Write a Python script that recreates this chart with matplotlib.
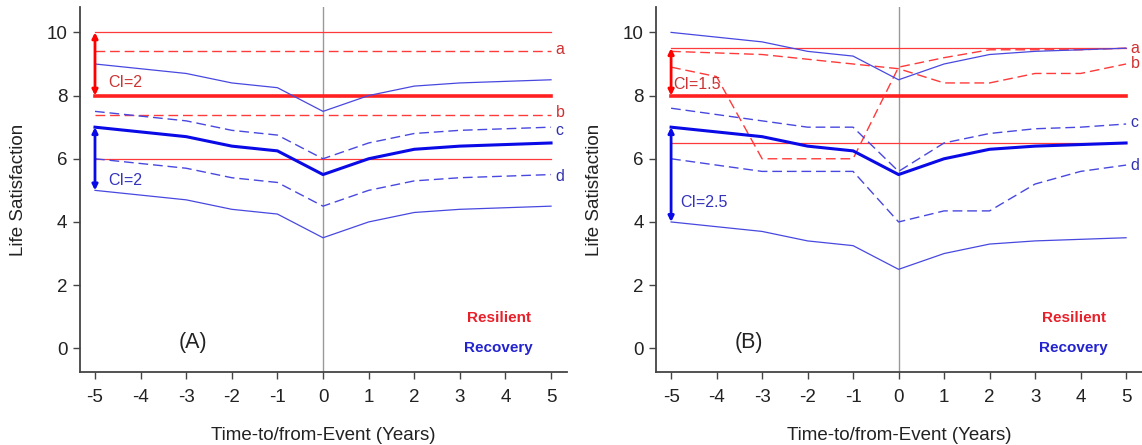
import numpy as np
import matplotlib
matplotlib.use('Agg')
import matplotlib.pyplot as plt

matplotlib.rcParams.update({'font.family': ['Liberation Sans', 'DejaVu Sans'], 'font.size': 12,
                            'axes.unicode_minus': False})

years = [-5, -4, -3, -2, -1, 0, 1, 2, 3, 4, 5]

# panel A
a_res_mean = 8.0
a_res_band = [6.0, 10.0]
a_res_dash = {'a': 9.4, 'b': 7.4}
a_rec_mean = [7.0, 6.85, 6.7, 6.4, 6.25, 5.5, 6.0, 6.3, 6.4, 6.45, 6.5]
a_rec_hi = [9.0, 8.85, 8.7, 8.4, 8.25, 7.5, 8.0, 8.3, 8.4, 8.45, 8.5]
a_rec_lo = [5.0, 4.85, 4.7, 4.4, 4.25, 3.5, 4.0, 4.3, 4.4, 4.45, 4.5]
a_rec_c = [7.5, 7.35, 7.2, 6.9, 6.75, 6.0, 6.5, 6.8, 6.9, 6.95, 7.0]
a_rec_d = [6.0, 5.85, 5.7, 5.4, 5.25, 4.5, 5.0, 5.3, 5.4, 5.45, 5.5]

# panel B
b_res_mean = 8.0
b_res_band = [6.5, 9.5]
b_res_a = [8.9, 8.6, 6.0, 6.0, 6.0, 8.9, 9.2, 9.45, 9.45, 9.45, 9.5]
b_res_b = [9.4, 9.35, 9.3, 9.15, 9.0, 8.85, 8.4, 8.4, 8.7, 8.7, 9.0]
b_rec_mean = [7.0, 6.85, 6.7, 6.4, 6.25, 5.5, 6.0, 6.3, 6.4, 6.45, 6.5]
b_rec_hi = [10.0, 9.85, 9.7, 9.4, 9.25, 8.5, 9.0, 9.3, 9.4, 9.45, 9.5]
b_rec_lo = [4.0, 3.85, 3.7, 3.4, 3.25, 2.5, 3.0, 3.3, 3.4, 3.45, 3.5]
b_rec_c = [7.6, 7.4, 7.2, 7.0, 7.0, 5.6, 6.5, 6.8, 6.95, 7.0, 7.1]
b_rec_d = [6.0, 5.8, 5.6, 5.6, 5.6, 4.0, 4.35, 4.35, 5.2, 5.6, 5.8]

RED = '#ff2020'
THINRED = '#ff3a3a'
BLUE = '#4848e0'
DBLUE = '#0a0ae6'
DASH = (0, (7, 3.5))


def style(ax, letter):
    ax.set_xlim(-5.33, 5.35)
    ax.set_ylim(-0.75, 10.8)
    ax.set_xticks(range(-5, 6))
    ax.set_yticks([0, 2, 4, 6, 8, 10])
    for s in ['top', 'right']:
        ax.spines[s].set_visible(False)
    for s in ['left', 'bottom']:
        ax.spines[s].set_color('#444444')
        ax.spines[s].set_linewidth(1.3)
    ax.tick_params(direction='out', length=5, width=1, color='#444444', labelsize=13.5,
                   labelcolor='#222222', pad=4)
    ax.tick_params(axis='x', pad=7)
    ax.axvline(0, color='#999999', lw=1, zorder=1)
    ax.set_xlabel('Time-to/from-Event (Years)', fontsize=13.5, labelpad=15, color='#222222')
    ax.set_ylabel('Life Satisfaction', fontsize=13.5, labelpad=14, color='#222222')
    ax.text(-3.3 if letter == 'B' else -2.85, 0.2, '(%s)' % letter, fontsize=15.5, ha='center', va='center',
            color='#222222')
    ax.text(3.85, 0.95, 'Resilient', color='#e8202a', fontsize=11, fontweight='bold', ha='center', va='center')
    ax.text(3.85, 0.02, 'Recovery', color='#2323d0', fontsize=11, fontweight='bold', ha='center', va='center')


def arrow(ax, y0, y1, color):
    ax.annotate('', xy=(-5, y1), xytext=(-5, y0),
                arrowprops=dict(arrowstyle='<|-|>', color=color, lw=2, mutation_scale=8,
                                shrinkA=0, shrinkB=0), zorder=5)


fig = plt.figure(figsize=(11.42, 4.45), dpi=100)
axA = fig.add_axes([0.070, 0.164, 0.4265, 0.82])
axB = fig.add_axes([0.5745, 0.164, 0.4255, 0.82])

# ---- panel A
ax = axA
ax.plot([-5, 5], [a_res_mean] * 2, color=RED, lw=2.6)
for v in a_res_band:
    ax.plot([-5, 5], [v] * 2, color=THINRED, lw=0.9)
for k, v in a_res_dash.items():
    ax.plot([-5, 5], [v] * 2, color=THINRED, lw=1, ls=DASH)
    ax.text(5.1, v + 0.05, k, color='#d03030', fontsize=11.5, va='center')
ax.plot(years, a_rec_mean, color=DBLUE, lw=2.2)
ax.plot(years, a_rec_hi, color=BLUE, lw=0.9)
ax.plot(years, a_rec_lo, color=BLUE, lw=0.9)
ax.plot(years, a_rec_c, color=BLUE, lw=1, ls=DASH)
ax.plot(years, a_rec_d, color=BLUE, lw=1, ls=DASH)
ax.text(5.1, a_rec_c[-1] - 0.1, 'c', color='#3030b0', fontsize=11.5, va='center')
ax.text(5.1, a_rec_d[-1] - 0.05, 'd', color='#3030b0', fontsize=11.5, va='center')
arrow(ax, a_res_mean, a_res_band[1], 'red')
arrow(ax, a_rec_mean[0], a_rec_lo[0], DBLUE)
ax.text(-4.72, 8.4, 'CI=2', color='#cc3333', fontsize=11.5, va='center')
ax.text(-4.72, 5.3, 'CI=2', color='#3333bb', fontsize=11.5, va='center')
style(ax, 'A')

# ---- panel B
ax = axB
ax.plot([-5, 5], [b_res_mean] * 2, color=RED, lw=2.6)
for v in b_res_band:
    ax.plot([-5, 5], [v] * 2, color=THINRED, lw=0.9)
ax.plot(years, b_res_a, color=THINRED, lw=1, ls=DASH)
ax.plot(years, b_res_b, color=THINRED, lw=1, ls=DASH)
ax.text(5.1, 9.5, 'a', color='#d03030', fontsize=11.5, va='center')
ax.text(5.1, 9.0, 'b', color='#d03030', fontsize=11.5, va='center')
ax.plot(years, b_rec_mean, color=DBLUE, lw=2.2)
ax.plot(years, b_rec_hi, color=BLUE, lw=0.9)
ax.plot(years, b_rec_lo, color=BLUE, lw=0.9)
ax.plot(years, b_rec_c, color=BLUE, lw=1, ls=DASH)
ax.plot(years, b_rec_d, color=BLUE, lw=1, ls=DASH)
ax.text(5.1, 7.15, 'c', color='#3030b0', fontsize=11.5, va='center')
ax.text(5.1, 5.8, 'd', color='#3030b0', fontsize=11.5, va='center')
arrow(ax, b_res_mean, b_res_band[1], 'red')
arrow(ax, b_rec_mean[0], b_rec_lo[0], DBLUE)
ax.text(-4.95, 8.35, 'CI=1.5', color='#cc3333', fontsize=11.5, va='center')
ax.text(-4.8, 4.6, 'CI=2.5', color='#3333bb', fontsize=11.5, va='center')
style(ax, 'B')
for t in ax.texts:
    t.set_clip_on(False)

fig.savefig('out.png', dpi=100)
